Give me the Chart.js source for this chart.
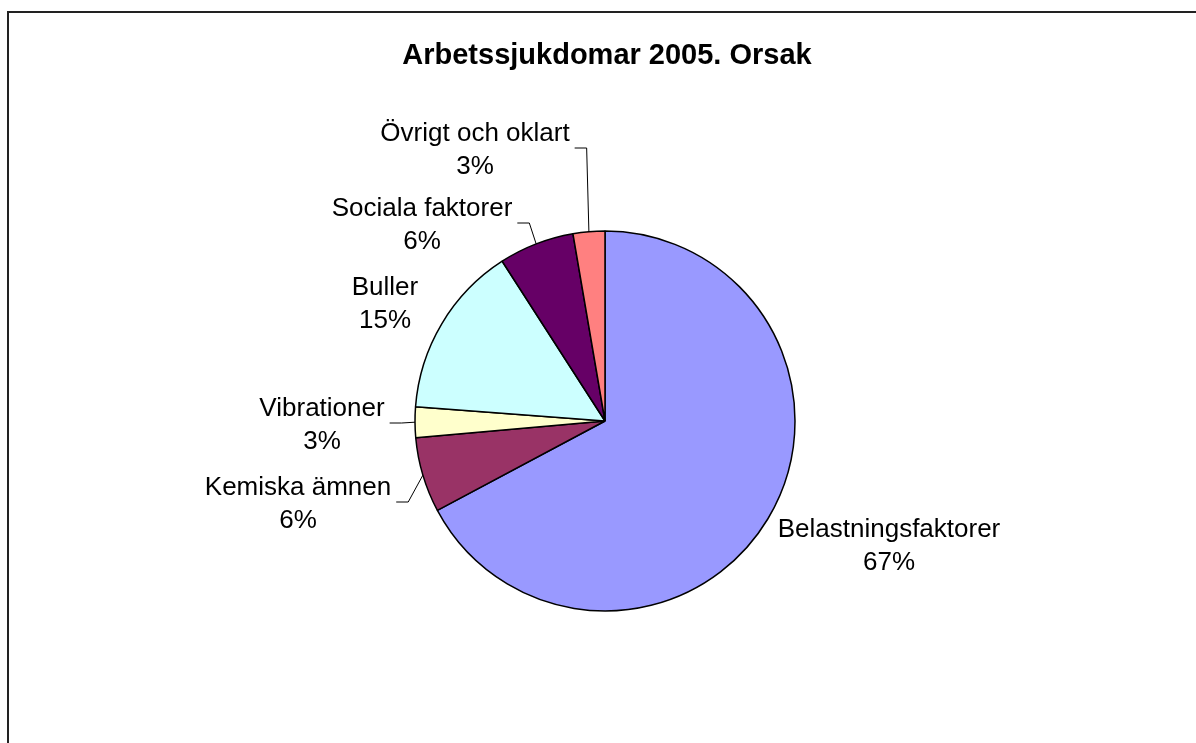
<!DOCTYPE html>
<html>
<head>
<meta charset="utf-8">
<title>Arbetssjukdomar 2005</title>
<script src="https://cdn.jsdelivr.net/npm/chart.js@4/dist/chart.umd.min.js"></script>
<style>
  body { margin: 0; background: #fff; }
  #wrap { width: 1196px; height: 743px; }
</style>
</head>
<body>
<div id="wrap"><canvas id="pie" width="1196" height="743"></canvas></div>
<script>
const chartTitle = 'Arbetssjukdomar 2005. Orsak';
const causes = ['Belastningsfaktorer', 'Kemiska ämnen', 'Vibrationer', 'Buller', 'Sociala faktorer', 'Övrigt och oklart'];
const shares = [67.2, 6.4, 2.6, 14.7, 6.4, 2.7];
const sliceColors = ['#9999FF', '#993366', '#FFFFCC', '#CCFFFF', '#660066', '#FF8080'];

// label box centres relative to the pie centre (placed by hand, like the original)
const labelSpots = [[284, 125], [-307, 83], [-283, 4], [-220, -117], [-183, -196], [-130, -271]];
const hasLeader = [false, true, true, false, true, true];

const FONT = '"Liberation Sans", Arial, sans-serif';

const total = shares.reduce((a, b) => a + b, 0);

const decorPlugin = {
    id: 'decor',
    afterDraw(chart) {
        const ctx = chart.ctx;
        const arcs = chart.getDatasetMeta(0).data;
        ctx.save();

        // frame
        ctx.strokeStyle = '#222';
        ctx.lineWidth = 2;
        ctx.strokeRect(8, 12, 1400, 1000);

        // title
        ctx.fillStyle = '#000';
        ctx.font = 'bold 29px ' + FONT;
        ctx.textAlign = 'center';
        ctx.textBaseline = 'middle';
        ctx.fillText(chartTitle, 607, 56);

        ctx.font = '26px ' + FONT;
        arcs.forEach((arc, i) => {
            const cx = arc.x + labelSpots[i][0];
            const cy = arc.y + labelSpots[i][1];
            const lines = [causes[i], Math.round(shares[i] / total * 100) + '%'];
            ctx.fillStyle = '#000';
            ctx.fillText(lines[0], cx, cy - 16);
            ctx.fillText(lines[1], cx, cy + 17);

            if (hasLeader[i]) {
                const w = Math.max(...lines.map(t => ctx.measureText(t).width));
                const mid = (arc.startAngle + arc.endAngle) / 2;
                const ex = arc.x + Math.cos(mid) * arc.outerRadius;
                const ey = arc.y + Math.sin(mid) * arc.outerRadius;
                const sx = cx + w / 2 + 5;
                const sy = cy - 2;
                ctx.strokeStyle = '#000';
                ctx.lineWidth = 1;
                ctx.beginPath();
                ctx.moveTo(sx, sy);
                ctx.lineTo(sx + 12, sy);
                ctx.lineTo(ex, ey);
                ctx.stroke();
            }
        });
        ctx.restore();
    }
};

new Chart(document.getElementById('pie'), {
    type: 'pie',
    data: {
        labels: causes,
        datasets: [{
            data: shares,
            backgroundColor: sliceColors,
            borderColor: '#000',
            borderWidth: 1.5
        }]
    },
    options: {
        responsive: false,
        devicePixelRatio: 1,
        animation: false,
        radius: 190,
        layout: { padding: { left: 415, right: 401, top: 231, bottom: 132 } },
        plugins: {
            legend: { display: false },
            tooltip: { enabled: false },
            title: { display: false }
        }
    },
    plugins: [decorPlugin]
});
</script>
</body>
</html>
